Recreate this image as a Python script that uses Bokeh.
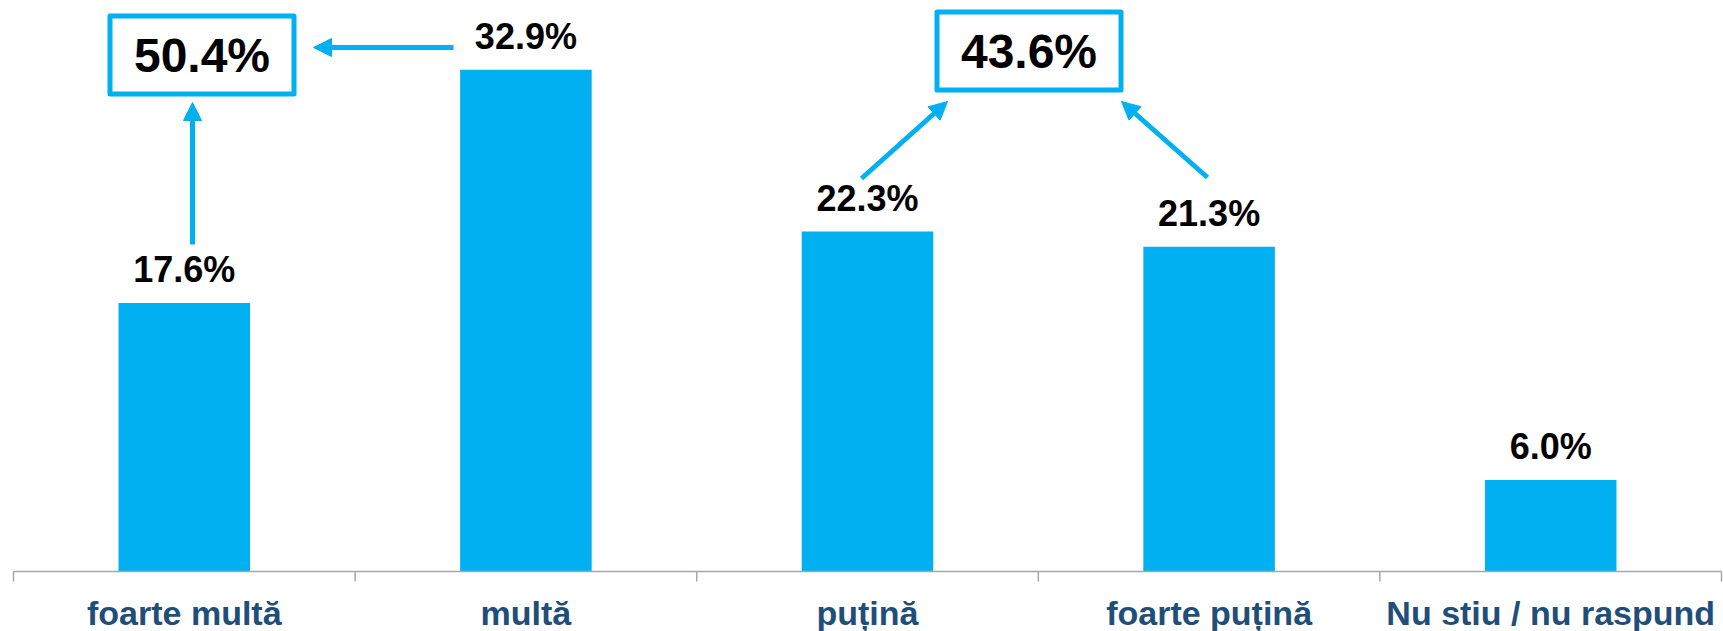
from bokeh.plotting import figure
from bokeh.models import Range1d, Arrow, NormalHead, ColumnDataSource
from bokeh.core.properties import value
from bokeh.embed import file_html
from bokeh.resources import INLINE

# ---- data ----
categories = ["foarte multă", "multă", "puțină", "foarte puțină", "Nu stiu / nu raspund"]
values = [17.6, 32.9, 22.3, 21.3, 6.0]
value_labels = ["17.6%", "32.9%", "22.3%", "21.3%", "6.0%"]
group_labels = ["50.4%", "43.6%"]

# ---- styling / geometry ----
BAR = "#00B0F0"
LABEL_BLUE = "#1F4E79"
AXIS_GRAY = "#A6A6A6"
W, H = 1723, 631
PX_X = 341.6    # pixels per category
PX_Y = 15.25    # pixels per percentage point
LEFT_PAD = 13   # px from frame left to first category boundary
BASE = 571      # px from frame top to the baseline (y=0)
BL = 0.37       # baseline correction (fraction of font size)

def dx(px):
    return px / PX_X

def dy(px):
    return px / PX_Y

def px_x(px):
    return dx(px - LEFT_PAD)

def px_y(py):
    return dy(BASE - py)

n = len(categories)
centers = [i + 0.5 for i in range(n)]

p = figure(width=W, height=H, output_backend="svg", toolbar_location=None,
           x_axis_location=None, y_axis_location=None,
           x_range=Range1d(px_x(0), px_x(W)),
           y_range=Range1d(px_y(H), px_y(0)),
           min_border=0, min_border_left=0, min_border_right=0,
           min_border_top=0, min_border_bottom=0)
p.grid.visible = False
p.outline_line_color = None
p.background_fill_color = "white"
p.border_fill_color = "white"

src = ColumnDataSource(dict(x=centers, top=values, cat=categories, lab=value_labels,
                            ly=[v + dy(20 + BL * 36) for v in values],
                            cy=[-dy(54 - BL * 34)] * n))

# bars
p.vbar(x="x", top="top", bottom=0, width=0.385, source=src,
       fill_color=BAR, line_color=None)

# baseline axis line + boundary ticks
p.segment(x0=[0], y0=[0], x1=[n], y1=[0], line_color=AXIS_GRAY, line_width=1.5)
bounds = list(range(n + 1))
p.segment(x0=bounds, y0=[0] * len(bounds), x1=bounds, y1=[-dy(10)] * len(bounds),
          line_color=AXIS_GRAY, line_width=1.5)

# value labels
p.text(x="x", y="ly", text="lab", source=src, text_align="center",
       text_baseline="alphabetic", text_font=value("Liberation Sans"),
       text_font_size="36px", text_font_style="bold", text_color="black")

# category labels
p.text(x="x", y="cy", text="cat", source=src, text_align="center",
       text_baseline="alphabetic", text_font=value("Liberation Sans"),
       text_font_size="34px", text_font_style="bold", text_color=LABEL_BLUE)

# summary boxes
box_cx = [px_x(201.5), px_x(1028.5)]
box_cy = [px_y(54.5), px_y(50.5)]
box_hw, box_hh = dx(92), dy(39)
p.quad(left=[c - box_hw for c in box_cx], right=[c + box_hw for c in box_cx],
       bottom=[c - box_hh for c in box_cy], top=[c + box_hh for c in box_cy],
       fill_color="white", line_color=BAR, line_width=5, line_join="round")
p.text(x=box_cx, y=[c - dy(18.5 - BL * 48) for c in box_cy], text=group_labels,
       text_align="center", text_baseline="alphabetic",
       text_font=value("Liberation Sans"), text_font_size="48px",
       text_font_style="bold", text_color="black")

# arrows: (start, end) in pixels
arrows = [((453, 47), (313, 47)),
          ((192, 244), (192, 102)),
          ((861, 178), (947, 101)),
          ((1207, 177), (1121, 101))]
for (sx, sy), (ex, ey) in arrows:
    p.add_layout(Arrow(x_start=px_x(sx), y_start=px_y(sy),
                       x_end=px_x(ex), y_end=px_y(ey),
                       line_color=BAR, line_width=5,
                       end=NormalHead(size=18, fill_color=BAR, line_color=BAR, line_width=1)))

open("out.html", "w").write(file_html(p, INLINE))
